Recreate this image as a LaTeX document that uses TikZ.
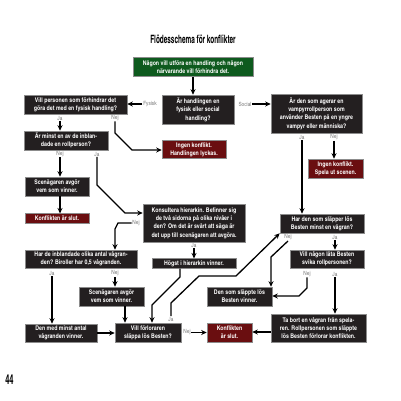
\documentclass[tikz,border=0pt]{standalone}
\usepackage{fontspec}
\setmainfont{texgyreheroscn}[Extension=.otf, UprightFont=*-regular, BoldFont=*-bold]
\usetikzlibrary{arrows.meta}
\definecolor{boxdark}{HTML}{231F20}
\definecolor{boxline}{HTML}{8C8C8C}
\definecolor{boxred}{HTML}{6A0E10}
\definecolor{boxgreen}{HTML}{0E5A1E}
\definecolor{lblgray}{HTML}{7A7A7A}
\begin{document}
\begin{tikzpicture}[x=1pt,y=-1pt,
  box/.style={draw=boxline, line width=0.6pt, fill=boxdark, text=white,
    font=\bfseries\fontsize{6.4}{8.3}\selectfont, align=center, inner sep=0pt},
  redbox/.style={box, fill=boxred},
  greenbox/.style={box, fill=boxgreen},
  lbl/.style={text=lblgray, font=\fontsize{5.8}{6}\selectfont, inner sep=0.6pt},
  arr/.style={draw=black, line width=1.3pt, -{Stealth[length=5.5pt,width=5pt]}}]
\useasboundingbox (0,0) rectangle (401,401);

\node (title) at (193,39) {\bfseries\fontsize{11.5}{12}\selectfont\scalebox{0.68}[1]{Flödesschema för konflikter}};
\node (page) at (9.5,380) {\bfseries\fontsize{13.5}{14}\selectfont\scalebox{0.68}[1]{44}};

% boxes
\node[greenbox, minimum width=120pt, minimum height=19pt] (start) at (193,67) {Någon vill utföra en handling och någon\\närvarande vill förhindra det.};
\node[box, minimum width=72pt, minimum height=29pt] (q1) at (198,109.5) {Är handlingen en\\fysisk eller social\\handling?};
\node[box, minimum width=103pt, minimum height=19pt] (q2) at (75.5,104.5) {Vill personen som förhindrar det\\göra det med en fysisk handling?};
\node[box, minimum width=91pt, minimum height=39pt] (q3) at (316.5,113.5) {Är den som agerar en\\vampyrrollperson som\\använder Besten på en yngre\\vampyr eller människa?};
\node[redbox, minimum width=64pt, minimum height=18pt] (ingen1) at (194,149.5) {Ingen konflikt.\\Handlingen lyckas.};
\node[box, minimum width=84pt, minimum height=19pt] (q4) at (66,140.5) {Är minst en av de inblan-\\dade en rollperson?};
\node[redbox, minimum width=55pt, minimum height=19pt] (ingen2) at (335.5,168.5) {Ingen konflikt.\\Spela ut scenen.};
\node[box, minimum width=64pt, minimum height=19pt] (sc1) at (57,186.5) {Scenägaren avgör\\vem som vinner.};
\node[redbox, minimum width=64pt, minimum height=9.5pt] (end1) at (57,218.5) {Konflikten är slut.};
\node[box, minimum width=102pt, minimum height=38pt] (kons) at (194,223) {Konsultera hierarkin. Befinner sig\\de två sidorna på olika nivåer i\\den? Om det är svårt att säga är\\det upp till scenägaren att avgöra.};
\node[box, minimum width=84pt, minimum height=19pt] (har) at (322,223.5) {Har den som släpper lös\\Besten minst en vågran?};
\node[box, minimum width=112pt, minimum height=18pt] (q5) at (81,259) {Har de inblandade olika antal vågran-\\den? Biroller har 0,5 vågranden.};
\node[box, minimum width=84pt, minimum height=9.5pt] (high) at (194,263.5) {Högst i hierarkin vinner.};
\node[box, minimum width=74pt, minimum height=18pt] (svika) at (327,259) {Vill någon låta Besten\\svika rollpersonen?};
\node[box, minimum width=65pt, minimum height=19pt] (sc2) at (111.5,296.5) {Scenägaren avgör\\vem som vinner.};
\node[box, minimum width=65pt, minimum height=19pt] (slappte) at (239.5,296.5) {Den som släppte lös\\Besten vinner.};
\node[box, minimum width=72pt, minimum height=18pt] (minst) at (61,333) {Den med minst antal\\vågranden vinner.};
\node[box, minimum width=66pt, minimum height=19pt] (vill) at (148,332.5) {Vill förloraren\\släppa lös Besten?};
\node[redbox, minimum width=45pt, minimum height=19pt] (end2) at (229.5,332.5) {Konflikten\\är slut.};
\node[box, minimum width=95pt, minimum height=28pt] (tabort) at (318.5,328) {Ta bort en vågran från spela-\\ren. Rollpersonen som släppte\\lös Besten förlorar konflikten.};

% labels
\node[lbl] (lfys) at (150,104) {Fysisk};
\node[lbl] (lsoc) at (245,104) {Social};
\node[lbl] (l1ja) at (60,118) {Ja};
\node[lbl] (l1nej) at (115,118) {Nej};
\node[lbl] (l2nej) at (60,154) {Nej};
\node[lbl] (l2ja) at (97,154) {Ja};
\node[lbl] (l3nej) at (136,223) {Nej};
\node[lbl] (l3ja) at (194,245.5) {Ja};
\node[lbl] (l4ja) at (52,273.5) {Ja};
\node[lbl] (l4nej) at (115,273.5) {Nej};
\node[lbl] (l5ja) at (171,319) {Ja};
\node[lbl] (l5nej) at (187,332.5) {Nej};
\node[lbl] (l6ja) at (302,137.5) {Ja};
\node[lbl] (l6nej) at (334,137.5) {Nej};
\node[lbl] (l7nej) at (288,237.5) {Nej};
\node[lbl] (l7ja) at (335,237.5) {Ja};
\node[lbl] (l8nej) at (307,274) {Nej};
\node[lbl] (l8ja) at (335,274) {Ja};

% connectors
\draw[arr] (start.south) -- (start.south |- q1.north);
\draw[arr] (lfys.west) -- (q2.east |- lfys.west);
\draw[arr] (lsoc.east) -- (q3.west |- lsoc.east);
\draw[arr] (l1ja.south) -- (l1ja.south |- q4.north);
\draw[arr] (l1nej.south) -- (115,133) -- (132,150) -- (ingen1.west |- 0,150);
\draw[arr] (l2nej.south) -- (l2nej.south |- sc1.north);
\draw[arr] (l2nej.south |- sc1.south) -- (l2nej.south |- end1.north);
\draw[arr] (l2ja.south) -- (97,185) -- (125,213) -- (kons.west |- 0,213);
\draw[arr] (l3nej.west) -- (118,223) -- (115,229) -- (q5.north -| 115,0);
\draw[arr] (l3ja.south) -- (high.north);
\draw[arr] (l4ja.south) -- (l4ja.south |- minst.north);
\draw[arr] (l4nej.south) -- (l4nej.south |- sc2.north);
\draw[arr] (sc2.south -| 125,0) -- (vill.north -| 125,0);
\draw[arr] (minst.east) -- (vill.west |- minst.east);
\draw[arr] (high.south -| 180,0) -- (180,277) -- (152,305) -- (vill.north -| 152,0);
\draw[arr] (l5ja.north) -- (171,303) -- (199,276) -- (236,276) -- (har.south west);
\draw[arr] (l5nej.east) -- (end2.west |- l5nej.east);
\draw[arr] (l6ja.south) -- (l6ja.south |- har.north);
\draw[arr] (l6nej.south) -- (l6nej.south |- ingen2.north);
\draw[arr] (l7ja.south) -- (l7ja.south |- svika.north);
\draw[arr] (l7nej.south) -- (271,257) -- (slappte.north -| 271,0);
\draw[arr] (l8nej.south) -- (307,288) -- (299,296) -- (slappte.east |- 0,296);
\draw[arr] (l8ja.south) -- (l8ja.south |- tabort.north);
\draw[arr] (tabort.west |- 0,332) -- (end2.east |- 0,332);
\end{tikzpicture}
\end{document}
